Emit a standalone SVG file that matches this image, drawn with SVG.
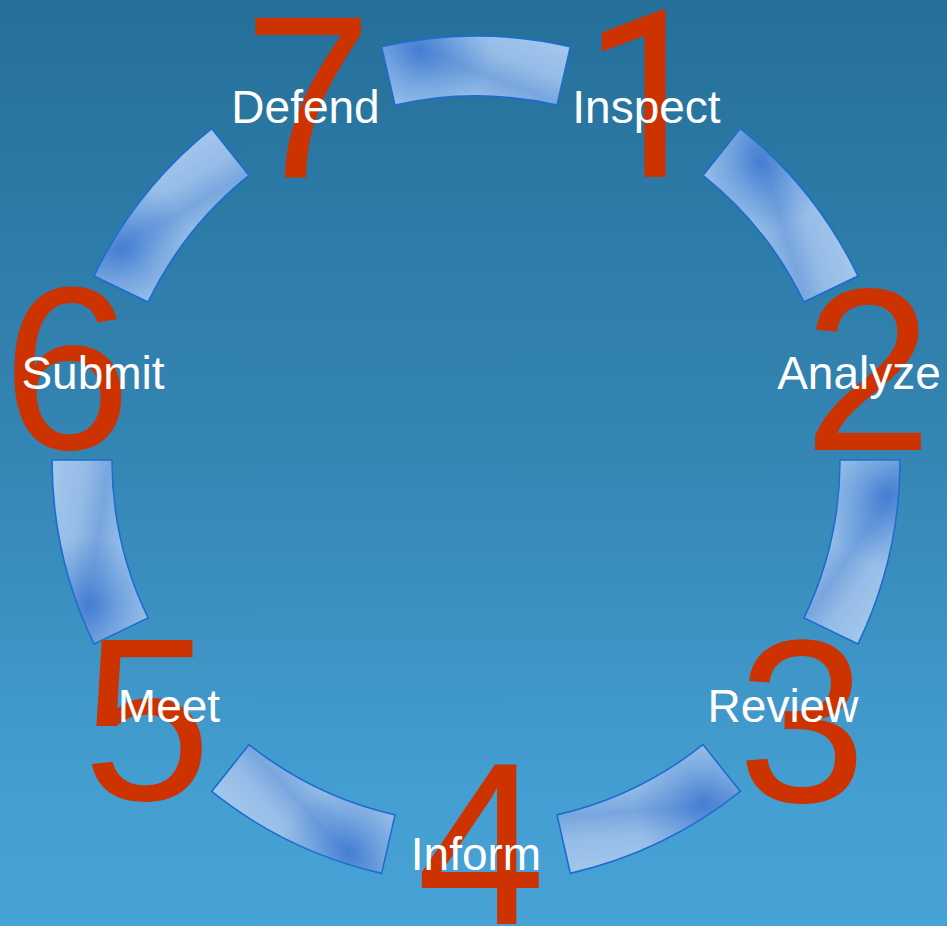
<svg xmlns="http://www.w3.org/2000/svg" xmlns:xlink="http://www.w3.org/1999/xlink" width="947" height="926" viewBox="0 0 947 926">
  <defs>
    <linearGradient id="bg" x1="0" y1="0" x2="0" y2="1">
      <stop offset="0" stop-color="#25709A"/>
      <stop offset="0.5" stop-color="#3586B5"/>
      <stop offset="0.85" stop-color="#449ED1"/>
      <stop offset="1" stop-color="#47A2D5"/>
    </linearGradient>
    <linearGradient id="segFill" gradientUnits="userSpaceOnUse" x1="398" y1="108" x2="445" y2="-10">
      <stop offset="0" stop-color="#A6C9ED"/>
      <stop offset="0.3" stop-color="#97BEE8"/>
      <stop offset="0.5" stop-color="#78A6DE"/>
      <stop offset="0.68" stop-color="#95BCE7"/>
      <stop offset="1" stop-color="#A6C9ED"/>
    </linearGradient>
    <radialGradient id="segDark" gradientUnits="userSpaceOnUse" cx="420" cy="52" r="70">
      <stop offset="0" stop-color="#2E6DCC" stop-opacity="0.7"/>
      <stop offset="0.5" stop-color="#3A78D0" stop-opacity="0.35"/>
      <stop offset="1" stop-color="#3A78D0" stop-opacity="0"/>
    </radialGradient>
    <path id="segShape" d="M381.65,46.63 A424,424 0 0 1 570.35,46.63 L557,105.13 A364,364 0 0 0 395,105.13 Z"/>
  </defs>
  <style>
    .seg { fill: url(#segFill); stroke: #1B6CCF; stroke-width: 1.6; stroke-linejoin: miter; }
    .shade { fill: url(#segDark); stroke: none; }
    .num { font-family: "Liberation Sans", Arial, sans-serif; font-size: 232px; fill: #CC3300; text-anchor: middle; }
    .num1 { font-family: Roboto, "Noto Sans", sans-serif; font-size: 234px; }
    .lbl { font-family: "Liberation Sans", Arial, sans-serif; font-size: 46px; fill: #FFFFFF; text-anchor: middle; }
  </style>

  <rect x="0" y="0" width="947" height="926" fill="url(#bg)"/>

  <g id="segments">
    <g id="seg-1" transform="rotate(0 476 460)">
      <use xlink:href="#segShape" href="#segShape" class="seg"/>
      <use xlink:href="#segShape" href="#segShape" class="shade"/>
    </g>
    <g id="seg-2" transform="rotate(51.4286 476 460)">
      <use xlink:href="#segShape" href="#segShape" class="seg"/>
      <use xlink:href="#segShape" href="#segShape" class="shade"/>
    </g>
    <g id="seg-3" transform="rotate(102.8571 476 460)">
      <use xlink:href="#segShape" href="#segShape" class="seg"/>
      <use xlink:href="#segShape" href="#segShape" class="shade"/>
    </g>
    <g id="seg-4" transform="rotate(154.2857 476 460)">
      <use xlink:href="#segShape" href="#segShape" class="seg"/>
      <use xlink:href="#segShape" href="#segShape" class="shade"/>
    </g>
    <g id="seg-5" transform="rotate(205.7143 476 460)">
      <use xlink:href="#segShape" href="#segShape" class="seg"/>
      <use xlink:href="#segShape" href="#segShape" class="shade"/>
    </g>
    <g id="seg-6" transform="rotate(257.1429 476 460)">
      <use xlink:href="#segShape" href="#segShape" class="seg"/>
      <use xlink:href="#segShape" href="#segShape" class="shade"/>
    </g>
    <g id="seg-7" transform="rotate(308.5714 476 460)">
      <use xlink:href="#segShape" href="#segShape" class="seg"/>
      <use xlink:href="#segShape" href="#segShape" class="shade"/>
    </g>
  </g>

  <g id="numbers">
    <text id="num-1" class="num num1" x="648" y="177">1</text>
    <text id="num-2" class="num" x="868" y="450">2</text>
    <text id="num-3" class="num" x="802" y="802">3</text>
    <text id="num-4" class="num" x="481" y="924">4</text>
    <text id="num-5" class="num" x="147" y="800">5</text>
    <text id="num-6" class="num" x="67" y="449">6</text>
    <text id="num-7" class="num" x="308" y="177">7</text>
  </g>

  <g id="labels">
    <g id="step-1"><text class="lbl" x="646.5" y="122.5">Inspect</text></g>
    <g id="step-2"><text class="lbl" x="859" y="389">Analyze</text></g>
    <g id="step-3"><text class="lbl" x="783" y="721.5">Review</text></g>
    <g id="step-4"><text class="lbl" x="476" y="869.5">Inform</text></g>
    <g id="step-5"><text class="lbl" x="169" y="721.5">Meet</text></g>
    <g id="step-6"><text class="lbl" x="93" y="389">Submit</text></g>
    <g id="step-7"><text class="lbl" x="305.5" y="122.5">Defend</text></g>
  </g>
</svg>
